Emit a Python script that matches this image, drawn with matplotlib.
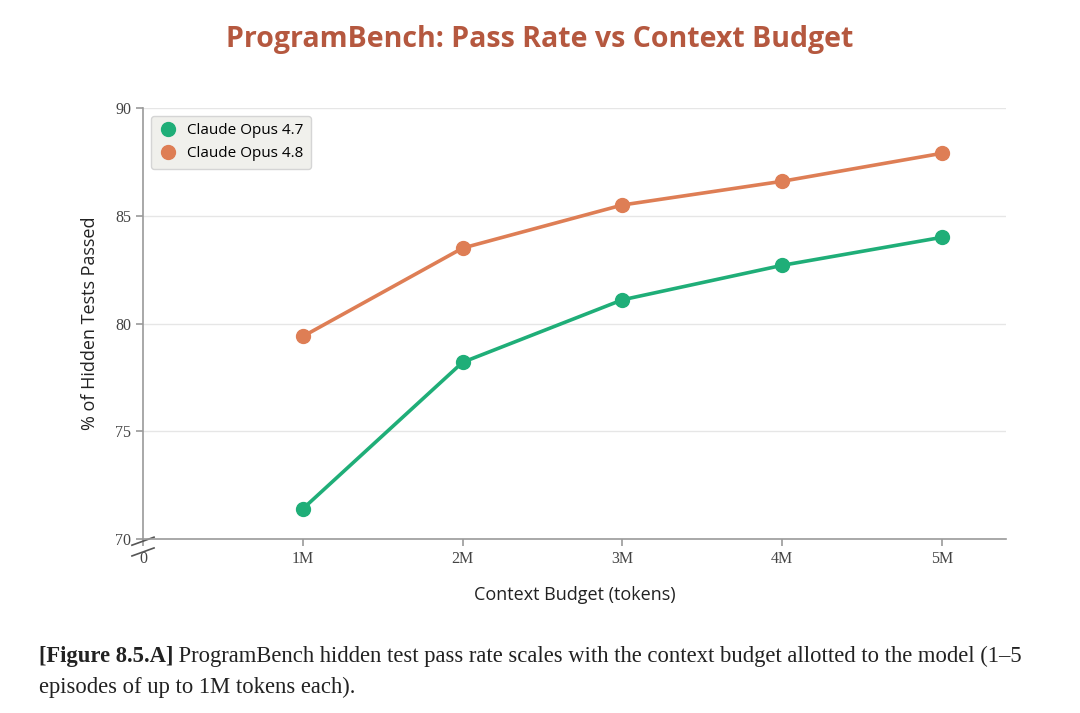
import matplotlib
matplotlib.use("Agg")
import matplotlib.pyplot as plt
from matplotlib.transforms import offset_copy

# data
budgets = [1, 2, 3, 4, 5]
tick_pos = [0, 1, 2, 3, 4, 5]
tick_labels = ["0", "1M", "2M", "3M", "4M", "5M"]
opus47 = [71.4, 78.2, 81.1, 82.7, 84.0]
opus48 = [79.4, 83.5, 85.5, 86.6, 87.9]

green = "#1fae78"
orange = "#de7e55"

fig = plt.figure(figsize=(10.8, 7.13), dpi=100)
ax = fig.add_axes([0.1324, 0.244, 0.799, 0.6045])

ax.plot(budgets, opus47, color=green, lw=2.6, marker="o", ms=10, label="Claude Opus 4.7", zorder=3)
ax.plot(budgets, opus48, color=orange, lw=2.6, marker="o", ms=10, label="Claude Opus 4.8", zorder=3)

ax.set_xlim(0, 5.4)
ax.set_ylim(70, 90)
ax.set_yticks([70, 75, 80, 85, 90])
ax.set_xticks(tick_pos)
ax.set_xticklabels(tick_labels)
ax.grid(axis="y", color="#e6e6e6", lw=1)
ax.set_axisbelow(True)

for s in ["top", "right"]:
    ax.spines[s].set_visible(False)
for s in ["left", "bottom"]:
    ax.spines[s].set_color("#9a9a9a")
    ax.spines[s].set_linewidth(1.2)
ax.tick_params(colors="#9a9a9a", length=5, width=1.2)
for lab in ax.get_xticklabels() + ax.get_yticklabels():
    lab.set_fontfamily("Liberation Serif")
    lab.set_fontsize(11.5)
    lab.set_color("#444444")

# axis break marks at the origin
for cy in [-0.005, -0.03]:
    ax.plot([-0.0128, 0.0128], [cy - 0.0093, cy + 0.0093], transform=ax.transAxes,
            color="#555555", lw=1.2, clip_on=False)

ax.set_xlabel("Context Budget (tokens)", fontsize=13, color="#222222", labelpad=14,
              fontfamily="Open Sans")
ax.set_ylabel("% of Hidden Tests Passed", fontsize=13, color="#222222", labelpad=12,
              fontfamily="Open Sans")

leg = ax.legend(loc="upper left", bbox_to_anchor=(0.0, 1.0), frameon=True,
                handletextpad=0.6, borderpad=0.5, handlelength=1.3,
                prop={"family": "Open Sans", "size": 11})
for h in leg.legend_handles:
    h.set_linestyle("none")
leg.get_frame().set_facecolor("#f0f0ec")
leg.get_frame().set_edgecolor("#d5d5d5")
leg.get_frame().set_alpha(1)

fig.text(0.5, 0.945, "ProgramBench: Pass Rate vs Context Budget", ha="center", va="center",
         fontsize=20.5, fontweight="bold", color="#b5583f", fontfamily="Open Sans")

# caption: bold tag followed by regular text
cap_kw = dict(fontsize=16.3, color="#222222", fontfamily="Liberation Serif", va="center")
tag = fig.text(0.036, 0.079, "[Figure 8.5.A]", fontweight="bold", **cap_kw)
fig.canvas.draw()
w = tag.get_window_extent().width
fig.text(0.036, 0.079, " ProgramBench hidden test pass rate scales with the context budget allotted to the model (1–5",
         transform=offset_copy(fig.transFigure, fig=fig, x=w, y=0, units="dots"), **cap_kw)
fig.text(0.036, 0.036, "episodes of up to 1M tokens each).", **cap_kw)

fig.savefig("out.png", dpi=100)
